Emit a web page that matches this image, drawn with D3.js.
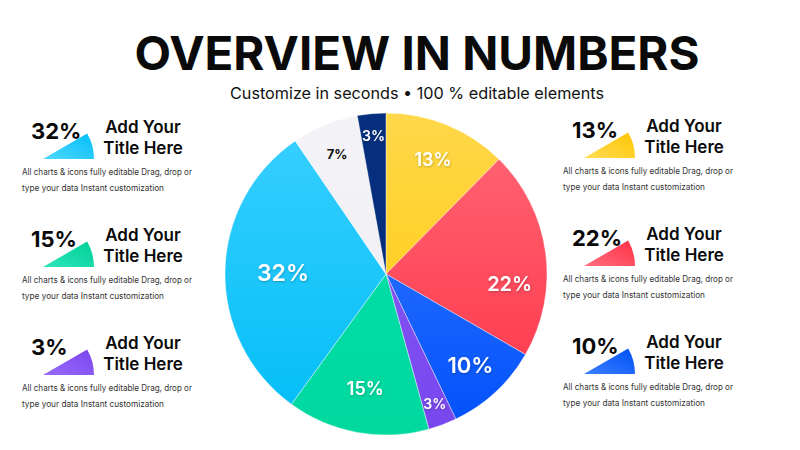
<!DOCTYPE html>
<html>
<head>
<meta charset="utf-8">
<script src="https://cdn.jsdelivr.net/npm/d3@7"></script>
<style>
  html, body { margin: 0; padding: 0; background: #ffffff; }
  svg { display: block; font-family: "Inter", "Noto Sans", sans-serif; }
</style>
</head>
<body>
<svg id="chart" width="800" height="450"></svg>
<script>
// ---------- DATA ----------
const sliceValues = [13, 22, 10, 3, 15, 32, 7, 3];
const sliceLabels = ["13%", "22%", "10%", "3%", "15%", "32%", "7%", "3%"];
const sliceColorsTop = ["#FFD84A", "#FF6877", "#3D7EFF", "#8E5BF7", "#00E2AC", "#3AD0FF", "#F4F3F7", "#06307F"];
const sliceColorsBottom = ["#FFC800", "#FF3246", "#0050FB", "#7747EE", "#00D89E", "#00BDF6", "#EFEDF3", "#022A73"];
const sliceLabelColors = ["#ffffff", "#ffffff", "#ffffff", "#ffffff", "#ffffff", "#ffffff", "#111111", "#ffffff"];

const titleText = "OVERVIEW IN NUMBERS";
const subtitleText = "Customize in seconds \u2022 100 % editable elements";

const leftPercents = ["32%", "15%", "3%"];
const leftColorsA = ["#52D8FF", "#2EE6B8", "#9A6BFA"];
const leftColorsB = ["#00BDF6", "#00CF98", "#7A45EE"];
const rightPercents = ["13%", "22%", "10%"];
const rightColorsA = ["#FFDD55", "#FF7080", "#3A80FF"];
const rightColorsB = ["#FFC400", "#FF2E44", "#0050F5"];
const panelTitle1 = "Add Your";
const panelTitle2 = "Title Here";
const panelBody1 = "All charts & icons fully editable Drag, drop or";
const panelBody2 = "type your data Instant customization";

// ---------- CHART ----------
const svg = d3.select("#chart");
const defs = svg.append("defs");

const shadow = defs.append("filter").attr("id", "tshadow")
  .attr("x", "-20%").attr("y", "-20%").attr("width", "140%").attr("height", "160%");
shadow.append("feDropShadow").attr("dx", 0.6).attr("dy", 1).attr("stdDeviation", 0.8)
  .attr("flood-color", "#000").attr("flood-opacity", 0.25);

// Title
svg.append("text").attr("x", 417).attr("y", 70).attr("text-anchor", "middle")
  .attr("font-size", 47).attr("font-weight", 700).attr("fill", "#0a0a0a")
  .attr("textLength", 565).attr("lengthAdjust", "spacingAndGlyphs")
  .text(titleText);
svg.append("text").attr("x", 417).attr("y", 99).attr("text-anchor", "middle")
  .attr("font-size", 16).attr("font-weight", 400).attr("fill", "#111")
  .attr("textLength", 374).attr("lengthAdjust", "spacingAndGlyphs")
  .text(subtitleText);

// Pie
const cx = 386, cy = 274, R = 161;
const pie = d3.pie().sort(null).value(d => d)(sliceValues);
const arc = d3.arc().innerRadius(0).outerRadius(R);

pie.forEach((d, i) => {
  const g = defs.append("linearGradient").attr("id", "sg" + i)
    .attr("gradientUnits", "userSpaceOnUse")
    .attr("x1", 0).attr("y1", -R).attr("x2", 0).attr("y2", R);
  g.append("stop").attr("offset", "0%").attr("stop-color", sliceColorsTop[i]);
  g.append("stop").attr("offset", "100%").attr("stop-color", sliceColorsBottom[i]);
});

const pg = svg.append("g").attr("transform", `translate(${cx},${cy})`);
pg.selectAll("path.slice").data(pie).join("path")
  .attr("class", "slice")
  .attr("d", arc)
  .attr("fill", (d, i) => `url(#sg${i})`)
  .attr("stroke", "#ffffff").attr("stroke-width", 0.4);

const labelFont = d => {
  if (d.data >= 30) return 23;
  if (d.data >= 20) return 20;
  if (d.data >= 10) return d.data === 10 ? 22 : 18;
  if (d.data >= 5) return 13;
  return 14;
};
const labelRadius = d => {
  if (d.data >= 30) return 103;
  if (d.data < 5) return 139;
  if (d.data < 10) return 129;
  if (d.data === 15) return 116;
  return 124;
};
// wide slices in the right half have their label sitting lower than the bisector
const labelAngle = d => {
  const mid = (d.startAngle + d.endAngle) / 2;
  const span = d.endAngle - d.startAngle;
  return (span > 1.2 && mid < Math.PI) ? mid + span * 0.16 : mid;
};

pg.selectAll("text.lbl").data(pie).join("text")
  .attr("class", "lbl")
  .attr("transform", d => {
    const a = labelAngle(d);
    const r = labelRadius(d);
    return `translate(${r * Math.sin(a)},${-r * Math.cos(a)})`;
  })
  .attr("text-anchor", "middle").attr("dy", "0.36em")
  .attr("font-size", labelFont)
  .attr("font-weight", d => d.data === 7 ? 700 : 600)
  .attr("fill", (d, i) => sliceLabelColors[i])
  .attr("filter", (d, i) => sliceLabelColors[i] === "#ffffff" ? "url(#tshadow)" : null)
  .text((d, i) => sliceLabels[i]);

// Side panels
const iconArc = d3.arc().innerRadius(0).outerRadius(51)
  .startAngle(Math.PI / 3).endAngle(Math.PI / 2);

function panel(x0, y0, pct, cA, cB, id) {
  const g = svg.append("g").attr("transform", `translate(${x0},${y0})`);
  const grad = defs.append("linearGradient").attr("id", id)
    .attr("x1", "0%").attr("y1", "100%").attr("x2", "100%").attr("y2", "0%");
  grad.append("stop").attr("offset", "0%").attr("stop-color", cA);
  grad.append("stop").attr("offset", "100%").attr("stop-color", cB);
  g.append("path").attr("d", iconArc).attr("transform", "translate(21,49)")
    .attr("fill", `url(#${id})`);
  g.append("text").attr("x", 9).attr("y", 29).attr("font-size", 22)
    .attr("font-weight", 700).attr("fill", "#0a0a0a").text(pct);
  g.append("text").attr("x", 121).attr("y", 23).attr("text-anchor", "middle")
    .attr("font-size", 17).attr("font-weight", 600).attr("fill", "#0a0a0a").text(panelTitle1);
  g.append("text").attr("x", 121).attr("y", 44).attr("text-anchor", "middle")
    .attr("font-size", 17).attr("font-weight", 600).attr("fill", "#0a0a0a").text(panelTitle2);
  g.append("text").attr("x", 0).attr("y", 65).attr("font-size", 8.6)
    .attr("fill", "#333").attr("textLength", 170).attr("lengthAdjust", "spacingAndGlyphs")
    .text(panelBody1);
  g.append("text").attr("x", 0).attr("y", 81).attr("font-size", 8.6)
    .attr("fill", "#333").attr("textLength", 142).attr("lengthAdjust", "spacingAndGlyphs")
    .text(panelBody2);
}

const rowY = [110, 218, 326];
leftPercents.forEach((p, i) => panel(22, rowY[i], p, leftColorsA[i], leftColorsB[i], "lp" + i));
rightPercents.forEach((p, i) => panel(563, rowY[i] - 1, p, rightColorsA[i], rightColorsB[i], "rp" + i));
</script>
</body>
</html>
